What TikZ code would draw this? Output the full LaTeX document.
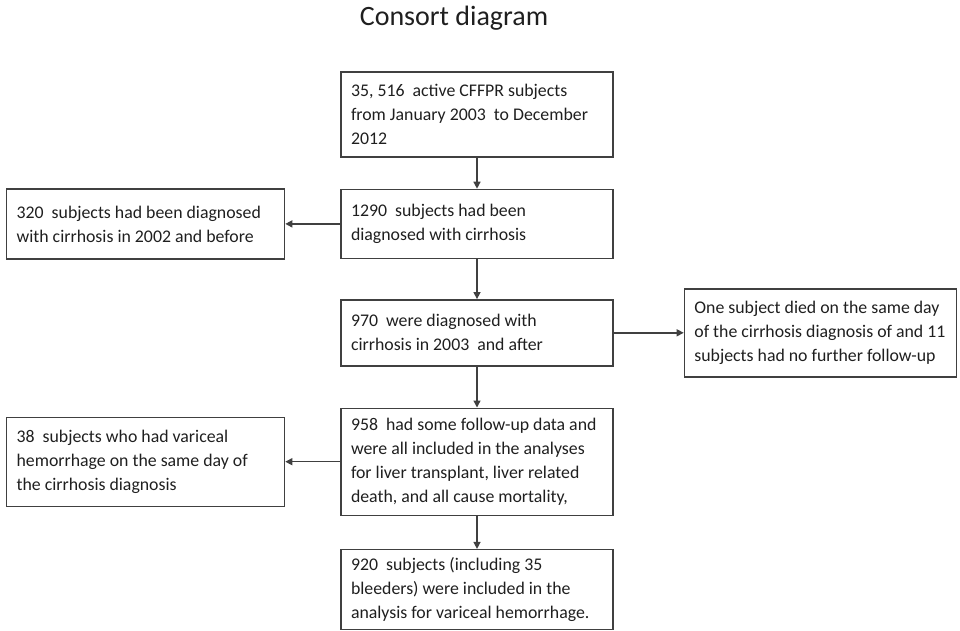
\documentclass[tikz,border=0pt]{standalone}
\usepackage{fontspec}
\setmainfont{Carlito}
\usepackage{tikz}
\usetikzlibrary{positioning,arrows.meta}
\definecolor{edge}{HTML}{404040}
\definecolor{ink}{HTML}{1F1F1F}

\begin{document}
\begin{tikzpicture}[
  x=1pt, y=1pt,
  font=\fontsize{17.8}{24}\selectfont,
  text=ink,
  box/.style   = {draw=edge, line width=1.4pt, align=left, inner xsep=10pt,
                  inner ysep=0pt, text width=#1,
                  execute at begin node={\spaceskip=0pt\xspaceskip=0pt\relax}},
  stage/.style = {box=252pt},
  drop/.style  = {box=258pt},
  flow/.style  = {draw=edge, line width=1.4pt,
                  -{Triangle[length=7pt,width=7pt]}}
]
\useasboundingbox (0,0) rectangle (960,-631);

% ---------- title ----------------------------------------------------------
\node[font=\fontsize{28}{34}\selectfont, anchor=base] (title) at (454,-26)
  {Consort diagram};

% ---------- main column ----------------------------------------------------
\node[stage, minimum height=85pt] (s1) at (477,-114.5)
  {35, 516~~active CFFPR subjects\\from January 2003~~to December\\2012};
\node[stage, minimum height=69pt, below=31pt of s1] (s2)
  {1290~~subjects had been\\diagnosed with cirrhosis};
\node[stage, minimum height=66pt, below=40pt of s2] (s3)
  {970~~were diagnosed with\\cirrhosis in 2003~~and after};
\node[stage, minimum height=107pt, below=41pt of s3] (s4)
  {958~~had some follow-up data and\\were all included in the analyses\\
   for liver transplant, liver related\\death, and all cause mortality,};
\node[stage, minimum height=80pt, below=33pt of s4] (s5)
  {920~~subjects (including 35\\bleeders) were included in the\\
   analysis for variceal hemorrhage.};

% ---------- exclusions -----------------------------------------------------
\node[drop, minimum height=70pt, left=55pt of s2] (x1)
  {320~~subjects had been diagnosed\\with cirrhosis in 2002 and before};
\node[stage, minimum height=88pt, right=70pt of s3] (x2)
  {One subject died on the same day\\of the cirrhosis diagnosis of and 11\\
   subjects had no further follow-up};
\node[drop, minimum height=89pt, left=55pt of s4] (x3)
  {38~~subjects who had variceal\\hemorrhage on the same day of\\
   the cirrhosis diagnosis};

% ---------- arrows ---------------------------------------------------------
\draw[flow] (s1) -- (s2);
\draw[flow] (s2) -- (s3);
\draw[flow] (s3) -- (s4);
\draw[flow] (s4) -- (s5);
\draw[flow] (s2) -- (x1);
\draw[flow] (s3) -- (x2);
\draw[flow] (s4) -- (x3);

\end{tikzpicture}
\end{document}
